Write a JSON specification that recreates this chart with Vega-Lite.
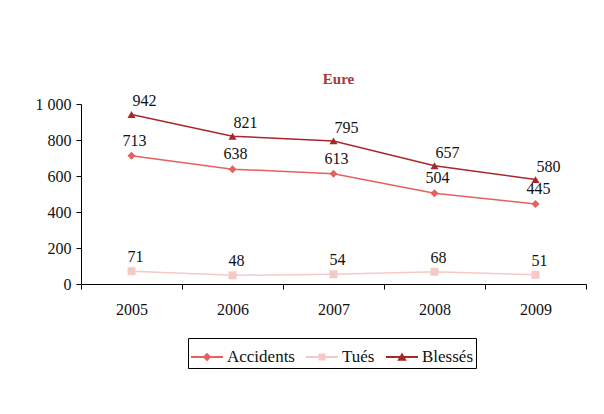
{
  "$schema": "https://vega.github.io/schema/vega-lite/v6.json",
  "width": 505,
  "height": 180,
  "autosize": "none",
  "padding": {"left": 81, "top": 104, "right": 18, "bottom": 130},
  "background": "white",
  "config": {
    "view": {"stroke": null},
    "font": "Liberation Serif",
    "axis": {"labelFont": "Liberation Serif", "labelFontSize": 16, "labelColor": "#111", "domainColor": "black", "tickColor": "black", "grid": false, "title": null},
    "legend": {"labelFont": "Liberation Serif", "labelFontSize": 17, "labelColor": "#111"}
  },
  "title": {"text": "Eure", "fontSize": 15, "fontWeight": "bold", "color": "#A33B37", "font": "Liberation Serif", "anchor": "middle", "baseline": "bottom", "offset": -9, "dx": 5},
  "data": {"values": [
    {"year": 2005, "series": "Accidents", "value": 713},
    {"year": 2006, "series": "Accidents", "value": 638},
    {"year": 2007, "series": "Accidents", "value": 613},
    {"year": 2008, "series": "Accidents", "value": 504},
    {"year": 2009, "series": "Accidents", "value": 445},
    {"year": 2005, "series": "Tués", "value": 71},
    {"year": 2006, "series": "Tués", "value": 48},
    {"year": 2007, "series": "Tués", "value": 54},
    {"year": 2008, "series": "Tués", "value": 68},
    {"year": 2009, "series": "Tués", "value": 51},
    {"year": 2005, "series": "Blessés", "value": 942},
    {"year": 2006, "series": "Blessés", "value": 821},
    {"year": 2007, "series": "Blessés", "value": 795},
    {"year": 2008, "series": "Blessés", "value": 657},
    {"year": 2009, "series": "Blessés", "value": 580}
  ]},
  "encoding": {
    "x": {"field": "year", "type": "quantitative",
      "scale": {"domain": [2004.5, 2009.5], "nice": false, "zero": false},
      "axis": {"values": [2004.5, 2005, 2005.5, 2006, 2006.5, 2007, 2007.5, 2008, 2008.5, 2009, 2009.5],
        "labelExpr": "datum.value % 1 == 0 ? format(datum.value, 'd') : ''",
        "tickOpacity": {"condition": {"test": "datum.value % 1 == 0", "value": 0}, "value": 1},
        "tickSize": 5, "labelPadding": 12, "labelOverlap": false, "labelFlush": false, "labelBound": false}},
    "y": {"field": "value", "type": "quantitative",
      "scale": {"domain": [0, 1000], "nice": false},
      "axis": {"values": [0, 200, 400, 600, 800, 1000], "tickSize": 5, "labelPadding": 5,
        "labelExpr": "replace(format(datum.value, ','), ',', ' ')"}}
  },
  "layer": [
    {"mark": {"type": "line", "strokeWidth": 1.5},
     "encoding": {"color": {"field": "series", "type": "nominal",
       "scale": {"domain": ["Accidents", "Tués", "Blessés"], "range": ["#E5605E", "#F6C9C9", "#A8282A"]},
       "legend": {"orient": "none", "legendX": 107, "legendY": 234, "direction": "horizontal", "title": null, "strokeColor": "black", "fillColor": "white", "padding": 3, "symbolSize": 1024, "columnPadding": 11, "labelOffset": 4,
         "encode": {"symbols": {"update": {
           "shape": {"signal": "datum.value == 'Accidents' ? 'M-1,-0.06H1V0.06H-1Z M0,-0.27L0.27,0L0,0.27L-0.27,0Z' : datum.value == 'Tués' ? 'M-1,-0.06H1V0.06H-1Z M-0.22,-0.22H0.22V0.22H-0.22Z' : 'M-1,-0.06H1V0.06H-1Z M0,-0.28L0.3,0.24H-0.3Z'"},
           "fill": {"scale": "color", "field": "value"},
           "fillOpacity": {"value": 1},
           "opacity": {"value": 1},
           "stroke": {"value": "transparent"},
           "strokeWidth": {"value": 0},
           "size": {"value": 1024}}}}}}}},
    {"mark": {"type": "point", "filled": true, "opacity": 1, "size": 64},
     "encoding": {"color": {"field": "series", "type": "nominal"},
       "shape": {"condition": [{"test": "datum.series == 'Accidents'", "value": "diamond"}, {"test": "datum.series == 'Tués'", "value": "square"}], "value": "triangle-up"}}},
    {"transform": [{"filter": "datum.series == 'Accidents'"}],
     "mark": {"type": "text", "fontSize": 16, "font": "Liberation Serif", "dx": 3, "dy": -15, "baseline": "middle"},
     "encoding": {"text": {"field": "value", "type": "quantitative"}, "color": {"value": "#111"}}},
    {"transform": [{"filter": "datum.series == 'Tués'"}],
     "mark": {"type": "text", "fontSize": 16, "font": "Liberation Serif", "dx": 4, "dy": -14, "baseline": "middle"},
     "encoding": {"text": {"field": "value", "type": "quantitative"}, "color": {"value": "#111"}}},
    {"transform": [{"filter": "datum.series == 'Blessés'"}],
     "mark": {"type": "text", "fontSize": 16, "font": "Liberation Serif", "dx": 13, "dy": -13, "baseline": "middle"},
     "encoding": {"text": {"field": "value", "type": "quantitative"}, "color": {"value": "#111"}}}
  ]
}
